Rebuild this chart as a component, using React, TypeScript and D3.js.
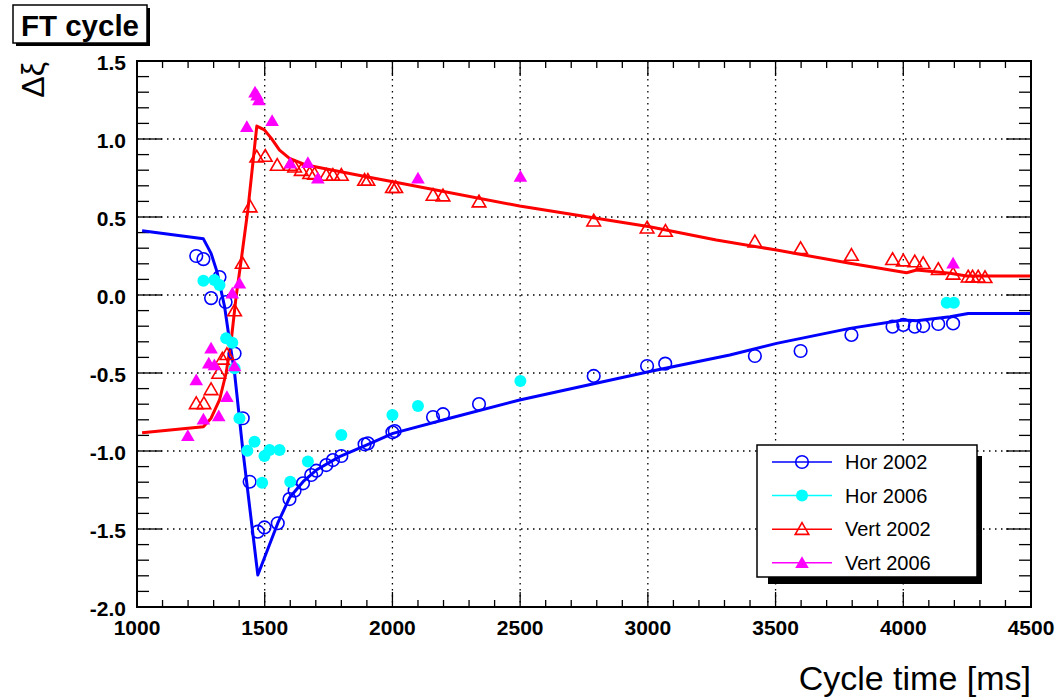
import React from "react";
import * as d3 from "d3";

// Fit curves [cycle time ms, delta xi]
const hor2002Fit: [number, number][] = [
  [1020, 0.412], [1260, 0.36], [1290, 0.267], [1313, 0.15], [1343, -0.075], [1362, -0.29],
  [1382, -0.5], [1414, -0.99], [1473, -1.795], [1551, -1.463], [1597, -1.3], [1650, -1.197],
  [1702, -1.122], [1793, -1.036], [1898, -0.962], [2002, -0.887], [2224, -0.79], [2498, -0.673],
  [3007, -0.49], [3321, -0.385], [3504, -0.31], [3791, -0.214], [4000, -0.16], [4052, -0.165],
  [4183, -0.139], [4254, -0.118], [4500, -0.118],
];
const vert2002Fit: [number, number][] = [
  [1020, -0.883], [1260, -0.844], [1290, -0.79], [1323, -0.673], [1349, -0.5], [1369, -0.29],
  [1388, -0.01], [1408, 0.224], [1434, 0.545], [1469, 1.083], [1499, 1.058], [1526, 1.004],
  [1558, 0.929], [1597, 0.876], [1663, 0.833], [1767, 0.8], [1898, 0.758], [2002, 0.726],
  [2498, 0.57], [3007, 0.438], [3268, 0.353], [3504, 0.288], [3791, 0.203], [4013, 0.143],
  [4052, 0.16], [4183, 0.139], [4248, 0.122], [4500, 0.122],
];

// Measurements
const hor2002: [number, number][] = [
  [1232, 0.25], [1260, 0.23], [1323, 0.115], [1290, -0.02], [1347, -0.045], [1382, -0.375],
  [1414, -0.79], [1441, -1.197], [1473, -1.517], [1499, -1.49], [1551, -1.463], [1597, -1.308],
  [1617, -1.254], [1650, -1.207], [1682, -1.154], [1702, -1.126], [1741, -1.09], [1767, -1.058],
  [1800, -1.032], [1891, -0.957], [1904, -0.951], [2000, -0.88], [2009, -0.872], [2159, -0.782],
  [2198, -0.764], [2339, -0.699], [2788, -0.519], [2997, -0.455], [3068, -0.44], [3419, -0.391],
  [3598, -0.359], [3797, -0.256], [3958, -0.203], [4000, -0.192], [4045, -0.203], [4078, -0.199],
  [4137, -0.186], [4195, -0.182],
];
const hor2006: [number, number][] = [
  [1260, 0.092], [1303, 0.096], [1323, 0.064], [1349, -0.278], [1373, -0.306], [1382, -0.47],
  [1401, -0.79], [1432, -0.998], [1460, -0.94], [1490, -1.203], [1499, -1.032], [1519, -0.994],
  [1558, -0.994], [1600, -1.197], [1669, -1.068], [1800, -0.897], [2000, -0.769], [2100, -0.712],
  [2501, -0.551], [4170, -0.049], [4198, -0.049],
];
const vert2002: [number, number][] = [
  [1232, -0.695], [1262, -0.695], [1290, -0.605], [1320, -0.5], [1334, -0.41], [1352, -0.38],
  [1382, -0.1], [1412, 0.205], [1443, 0.566], [1469, 0.886], [1502, 0.891], [1549, 0.833],
  [1600, 0.833], [1617, 0.822], [1643, 0.8], [1676, 0.78], [1695, 0.776], [1741, 0.769],
  [1767, 0.769], [1800, 0.769], [1891, 0.737], [1904, 0.737], [2000, 0.69], [2013, 0.69],
  [2159, 0.641], [2198, 0.637], [2339, 0.598], [2788, 0.476], [2997, 0.431], [3069, 0.41],
  [3419, 0.342], [3598, 0.299], [3797, 0.256], [3958, 0.229], [4000, 0.22], [4045, 0.214],
  [4078, 0.203], [4137, 0.165], [4195, 0.135], [4254, 0.117], [4271, 0.117], [4293, 0.117],
  [4320, 0.113],
];
const vert2006: [number, number][] = [
  [1199, -0.902], [1232, -0.545], [1260, -0.797], [1281, -0.438], [1290, -0.342], [1303, -0.449],
  [1320, -0.776], [1352, -0.652], [1373, 0.011], [1382, -0.455], [1401, 0.075], [1430, 1.079],
  [1462, 1.3], [1470, 1.28], [1477, 1.25], [1529, 1.117], [1600, 0.844], [1669, 0.848],
  [1708, 0.748], [2100, 0.748], [2501, 0.759], [4195, 0.203],
];

const xTickValues = [1000, 1500, 2000, 2500, 3000, 3500, 4000, 4500];
const yTickValues = [-2.0, -1.5, -1.0, -0.5, 0.0, 0.5, 1.0, 1.5];
const legendLabels = ["Hor 2002", "Hor 2006", "Vert 2002", "Vert 2006"];

const L = 137, R = 1031, T = 61, B = 607;
const FONT = "'Liberation Sans', Arial, Helvetica, sans-serif";

const x = d3.scaleLinear().domain([1000, 4500]).range([L, R]);
const y = d3.scaleLinear().domain([-2, 1.5]).range([B, T]);

const triPath = "M0,-6.5 L6.8,5.2 L-6.8,5.2 Z";

function Marker({ kind, cx, cy }: { kind: number; cx: number; cy: number }) {
  const t = `translate(${cx},${cy})`;
  if (kind === 0) return <circle cx={cx} cy={cy} r={6.3} fill="none" stroke="#0000ff" strokeWidth={1.6} />;
  if (kind === 1) return <circle cx={cx} cy={cy} r={6} fill="#00ffff" />;
  if (kind === 2) return <path d={triPath} transform={t} fill="none" stroke="#ff0000" strokeWidth={1.6} />;
  return <path d={triPath} transform={t} fill="#ff00ff" />;
}

export default function App() {
  const line = d3.line<[number, number]>().x((d) => x(d[0])).y((d) => y(d[1]));
  const xMinor = d3.range(1000, 4501, 100);
  const yMinor = d3.range(-20, 16, 1).map((v) => v / 10);
  const series = [hor2002, hor2006, vert2002, vert2006];
  const colors = ["#0000ff", "#00ffff", "#ff0000", "#ff00ff"];

  return (
    <svg width={1063} height={700} style={{ position: "absolute", left: 0, top: 0, background: "#fff" }}>
      <rect x={0} y={0} width={1063} height={700} fill="#fff" />
      {/* grid */}
      <g stroke="#000" strokeWidth={1.3} strokeDasharray="1.5,4.5">
        {xTickValues.slice(1, -1).map((v) => (
          <line key={"gx" + v} x1={x(v)} x2={x(v)} y1={T} y2={B} />
        ))}
        {yTickValues.slice(1, -1).map((v) => (
          <line key={"gy" + v} x1={L} x2={R} y1={y(v)} y2={y(v)} />
        ))}
      </g>
      {/* ticks */}
      <g stroke="#000" strokeWidth={1.3}>
        {xMinor.map((v) => {
          const major = v % 500 === 0;
          const len = major ? 15 : 7;
          return (
            <g key={"tx" + v}>
              <line x1={x(v)} x2={x(v)} y1={B} y2={B - len} />
              <line x1={x(v)} x2={x(v)} y1={T} y2={T + len} />
            </g>
          );
        })}
        {yMinor.map((v) => {
          const major = Math.abs(Math.round(v * 10) % 5) === 0;
          const len = major ? 25 : 12;
          return (
            <g key={"ty" + v}>
              <line x1={L} x2={L + len} y1={y(v)} y2={y(v)} />
              <line x1={R} x2={R - len} y1={y(v)} y2={y(v)} />
            </g>
          );
        })}
      </g>
      {/* fits */}
      <path d={line(hor2002Fit) || ""} fill="none" stroke="#0000ff" strokeWidth={3} strokeLinejoin="round" />
      <path d={line(vert2002Fit) || ""} fill="none" stroke="#ff0000" strokeWidth={3} strokeLinejoin="round" />
      {/* markers */}
      {series.map((s, k) => (
        <g key={"s" + k}>
          {s.map((d, i) => (
            <Marker key={i} kind={k} cx={x(d[0])} cy={y(d[1])} />
          ))}
        </g>
      ))}
      {/* frame */}
      <rect x={L} y={T} width={R - L} height={B - T} fill="none" stroke="#000" strokeWidth={2} />
      {/* tick labels */}
      <g fontFamily={FONT} fontWeight="bold" fontSize={21} fill="#000">
        {xTickValues.map((v) => (
          <text key={"lx" + v} x={x(v)} y={B + 28} textAnchor="middle">{v}</text>
        ))}
        {yTickValues.map((v) => (
          <text key={"ly" + v} x={L - 11} y={y(v) + 9} textAnchor="end">{v.toFixed(1)}</text>
        ))}
      </g>
      {/* axis titles */}
      <text x={R} y={690} textAnchor="end" fontFamily={FONT} fontSize={34} fill="#000">Cycle time [ms]</text>
      <text transform={`translate(44,62) rotate(-90)`} textAnchor="end" fontFamily={FONT} fontSize={32} fill="#000">Δξ</text>
      {/* title */}
      <rect x={16} y={8} width={134} height={38} fill="#000" />
      <rect x={13} y={5} width={134} height={38} fill="#fff" stroke="#000" strokeWidth={1.5} />
      <text x={80} y={36} textAnchor="middle" fontFamily={FONT} fontWeight="bold" fontSize={29.5} fill="#000">FT cycle</text>
      {/* legend */}
      <rect x={768} y={456} width={214} height={128} fill="#000" />
      <rect x={757} y={445} width={220} height={132} fill="#fff" stroke="#000" strokeWidth={1.5} />
      {legendLabels.map((lab, k) => {
        const ly = 462 + k * 33.6;
        return (
          <g key={"lg" + k}>
            <line x1={772} x2={832} y1={ly} y2={ly} stroke={colors[k]} strokeWidth={1.5} />
            <Marker kind={k} cx={802} cy={ly} />
            <text x={845} y={ly + 7} fontFamily={FONT} fontSize={20} fill="#000">{lab}</text>
          </g>
        );
      })}
    </svg>
  );
}
